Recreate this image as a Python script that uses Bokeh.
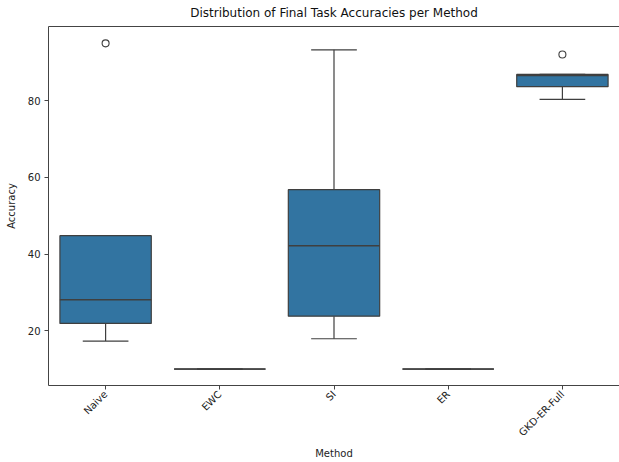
import math
from bokeh.plotting import figure
from bokeh.models import (ColumnDataSource, FactorRange, Range1d, FixedTicker,
                          CategoricalAxis)
from bokeh.transform import dodge
from bokeh.embed import file_html
from bokeh.resources import INLINE

# ---- data ----
methods = ["Naive", "EWC", "SI", "ER", "GKD-ER-Full"]
whisker_low = [17.3, 10.0, 17.9, 10.0, 80.4]
q1 = [21.9, 10.0, 23.8, 10.0, 83.7]
median = [28.1, 10.0, 42.2, 10.0, 86.6]
q3 = [44.8, 10.0, 56.8, 10.0, 86.9]
whisker_high = [44.8, 10.0, 93.3, 10.0, 86.9]
outlier_methods = ["Naive", "GKD-ER-Full"]
outlier_values = [95.0, 92.1]
y_ticks = [20, 40, 60, 80]

BOX = "#3274a1"
LINE = "#3f3f3f"
AXIS = "#444444"
TEXT = "#222222"
FONT = "DejaVu Sans"

src = ColumnDataSource(dict(m=methods, lo=whisker_low, q1=q1, med=median, q3=q3, hi=whisker_high))
osrc = ColumnDataSource(dict(m=outlier_methods, v=outlier_values))

p = figure(
    width=619, height=462,
    x_range=FactorRange(factors=methods, range_padding=0),
    y_range=Range1d(5.7, 99.4),
    output_backend="svg", toolbar_location=None,
    title="Distribution of Final Task Accuracies per Method",
    min_border_left=48, min_border_right=0, min_border_top=26, min_border_bottom=0,
)
p.outline_line_color = None
p.xgrid.visible = False
p.ygrid.visible = False

p.title.text_font = FONT
p.title.text_font_size = "12px"
p.title.text_font_style = "normal"
p.title.align = "center"
p.title.text_color = "#111111"
p.title.standoff = 2

# whiskers
p.segment(x0="m", x1="m", y0="q3", y1="hi", source=src, line_color=LINE, line_width=1.2)
p.segment(x0="m", x1="m", y0="lo", y1="q1", source=src, line_color=LINE, line_width=1.2)
# caps
for col in ("lo", "hi"):
    p.segment(x0=dodge("m", -0.2, range=p.x_range), x1=dodge("m", 0.2, range=p.x_range),
              y0=col, y1=col, source=src, line_color=LINE, line_width=1.2)
# boxes
p.vbar(x="m", width=0.8, bottom="q1", top="q3", source=src,
       fill_color=BOX, line_color=LINE, line_width=1.2)
# medians
p.segment(x0=dodge("m", -0.4, range=p.x_range), x1=dodge("m", 0.4, range=p.x_range),
          y0="med", y1="med", source=src, line_color=LINE, line_width=1.5)
# outliers
p.scatter(x="m", y="v", source=osrc, marker="circle", size=7,
          fill_color=None, line_color=LINE, line_width=1.1)

# axes
for ax in (p.xaxis[0], p.yaxis[0]):
    ax.axis_line_color = AXIS
    ax.major_tick_line_color = AXIS
    ax.major_tick_in = 0
    ax.major_tick_out = 4
    ax.minor_tick_line_color = None
    ax.major_label_text_font = FONT
    ax.major_label_text_font_size = "10px"
    ax.major_label_text_color = TEXT
    ax.axis_label_text_font = FONT
    ax.axis_label_text_font_size = "10px"
    ax.axis_label_text_font_style = "normal"
    ax.axis_label_text_color = TEXT

p.xaxis.axis_label = "Method"
p.yaxis.axis_label = "Accuracy"
p.yaxis.ticker = FixedTicker(ticks=y_ticks)
p.yaxis.major_label_standoff = 4
p.yaxis.axis_label_standoff = 8

p.xaxis.major_label_orientation = math.pi / 4
p.xaxis.major_label_standoff = 3
p.xaxis.axis_label_standoff = 3

# top spine only (no right spine in the reference: it lies outside the picture)
top = CategoricalAxis(axis_line_color=AXIS, major_tick_line_color=None,
                      minor_tick_line_color=None, major_label_standoff=0,
                      major_label_text_color=None, major_label_text_font_size="2px")
p.add_layout(top, "above")

open("out.html", "w").write(file_html(p, INLINE))
